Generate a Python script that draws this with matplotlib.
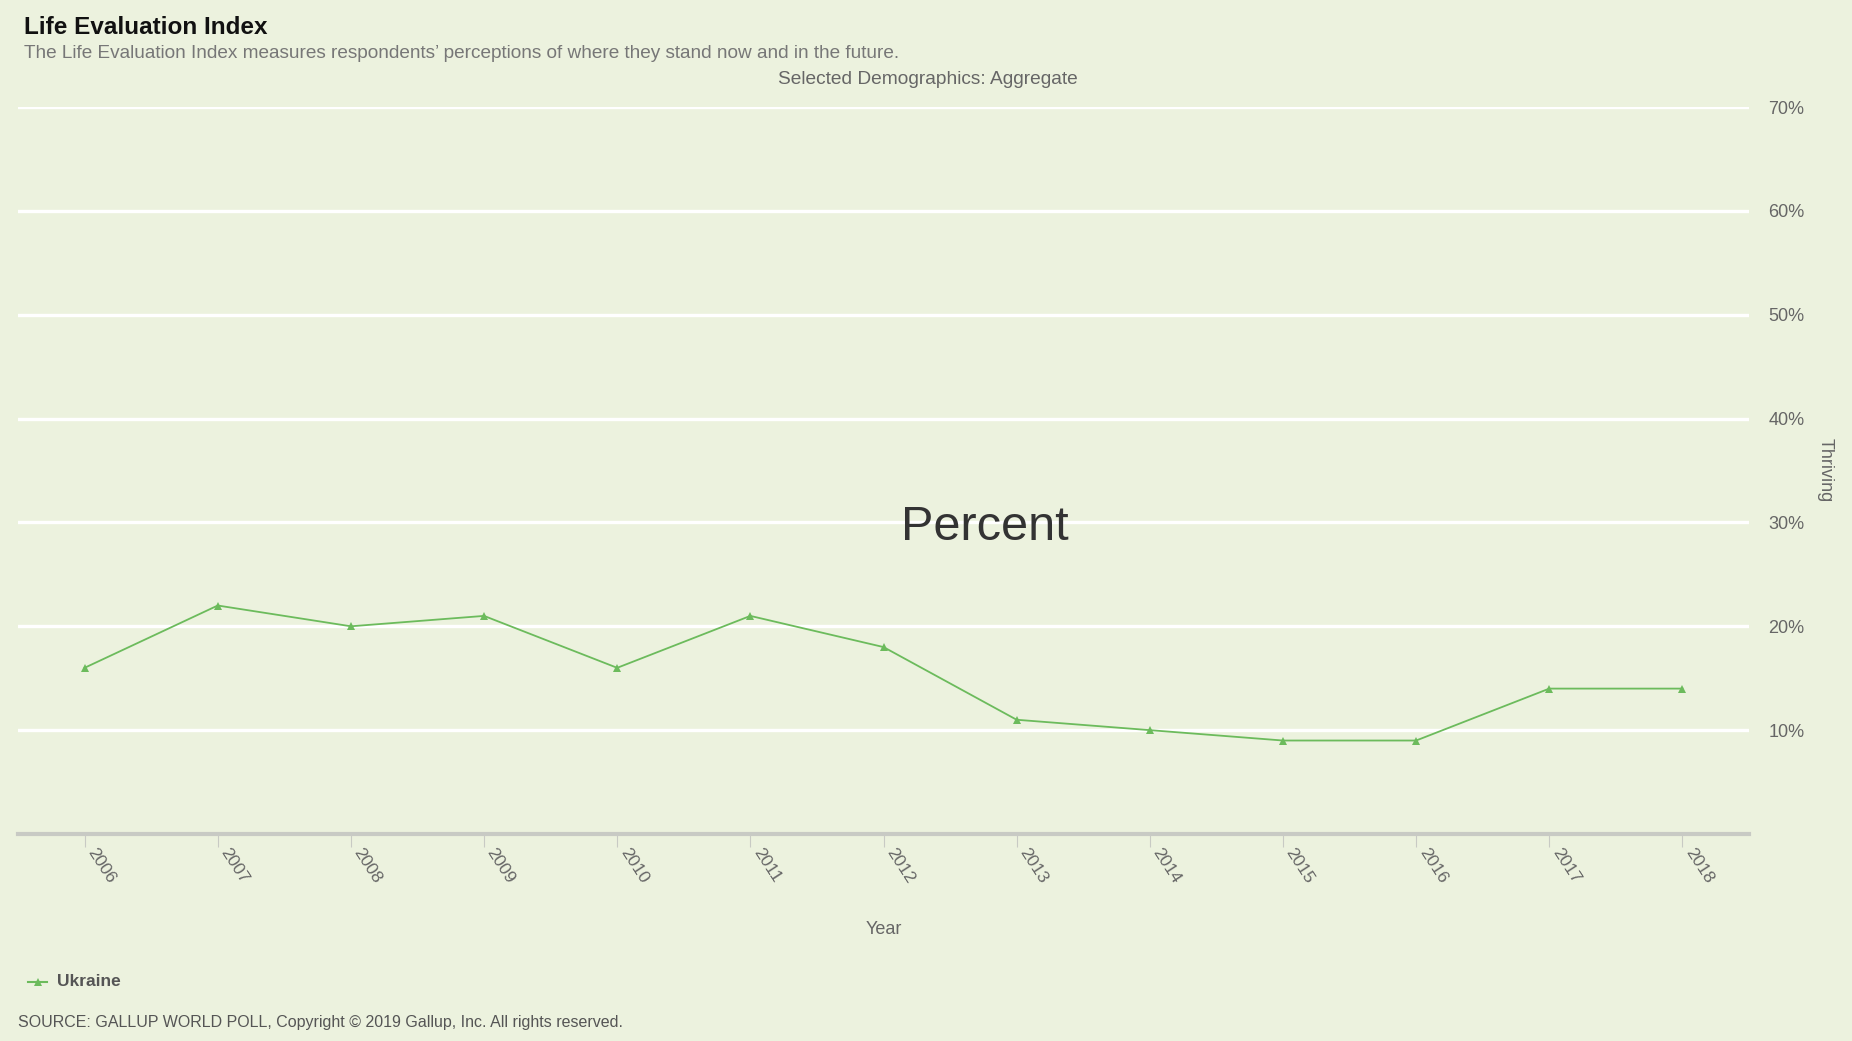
import matplotlib
matplotlib.use("Agg")
import matplotlib.pyplot as plt

years = ["2006", "2007", "2008", "2009", "2010", "2011", "2012",
         "2013", "2014", "2015", "2016", "2017", "2018"]
ukraine = [16, 22, 20, 21, 16, 21, 18, 11, 10, 9, 9, 14, 14]
y_ticks = [10, 20, 30, 40, 50, 60, 70]
y_tick_labels = ["10%", "20%", "30%", "40%", "50%", "60%", "70%"]

BG = "#ecf2de"
GREEN = "#6cbb5c"
plt.rcParams['font.family'] = ['Liberation Sans', 'DejaVu Sans']

W, H = 1852, 1041
fig = plt.figure(figsize=(W / 100, H / 100), dpi=100, facecolor=BG)
ax = fig.add_axes([18 / W, 1 - 834 / H, (1749 - 18) / W, (834 - 107) / H])
ax.set_facecolor(BG)

x = list(range(len(years)))
ax.set_xlim(-0.5, len(years) - 0.5)
ax.set_ylim(0, 70)

for yv in y_ticks:
    ax.axhline(yv, color="white", lw=2.4, zorder=1)

ax.plot(x, ukraine, color=GREEN, lw=1.3, marker="^", markersize=6,
        markeredgewidth=0, zorder=3)

for s in ["top", "right", "left"]:
    ax.spines[s].set_visible(False)
ax.spines["bottom"].set_color("#c8cac4")
ax.spines["bottom"].set_linewidth(3)

ax.yaxis.tick_right()
ax.set_yticks(y_ticks)
ax.set_yticklabels(y_tick_labels, color="#666666", fontsize=13,
                   va="center_baseline")
ax.tick_params(axis="y", length=0, pad=14)

ax.set_xticks(x)
ax.set_xticklabels(years, rotation=-57, ha="left", va="bottom",
                   rotation_mode="anchor", color="#666666", fontsize=12.5)
ax.tick_params(axis="x", length=9, width=0.8, color="#c8cac4", pad=5)

fig.text(985 / W, 1 - 528 / H, "Percent", fontsize=35, color="#333333",
         ha="center", va="center")
fig.text(1825 / W, 1 - 470 / H, "Thriving", fontsize=13, color="#666666",
         rotation=270, ha="center", va="center")
fig.text(884 / W, 1 - 930 / H, "Year", fontsize=13, color="#666666",
         ha="center", va="center")

fig.text(24 / W, 1 - 27 / H, "Life Evaluation Index", fontsize=17.5,
         fontweight="bold", color="#111111", ha="left", va="center")
fig.text(24 / W, 1 - 54 / H,
         "The Life Evaluation Index measures respondents\u2019 perceptions of where they stand now and in the future.",
         fontsize=13.7, color="#777777", ha="left", va="center")
fig.text(928 / W, 1 - 80 / H, "Selected Demographics: Aggregate",
         fontsize=13.8, color="#666666", ha="center", va="center")

# legend
fig.lines.append(plt.Line2D([28 / W, 47 / W], [1 - 982 / H, 1 - 982 / H],
                            transform=fig.transFigure, color=GREEN, lw=1.5))
fig.lines.append(plt.Line2D([37.5 / W], [1 - 982 / H], transform=fig.transFigure,
                            color=GREEN, marker="^", markersize=6,
                            markeredgewidth=0))
fig.text(57 / W, 1 - 982 / H, "Ukraine", fontsize=12.5, fontweight="bold",
         color="#555555", ha="left", va="center")

fig.text(18 / W, 1 - 1022 / H,
         "SOURCE: GALLUP WORLD POLL, Copyright \u00a9 2019 Gallup, Inc. All rights reserved.",
         fontsize=11.5, color="#555555", ha="left", va="center")

fig.savefig("out.png", dpi=100, facecolor=BG)
